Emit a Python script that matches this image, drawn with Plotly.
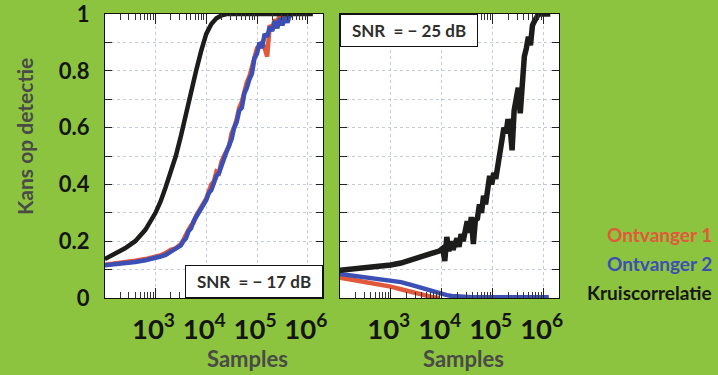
import plotly.graph_objects as go

# ---------------- data (x given as log10(samples)) ----------------
left_black_logx = [2.0, 2.2, 2.4, 2.6, 2.8, 3.0, 3.1, 3.2, 3.3, 3.4, 3.5, 3.6, 3.7, 3.8,
                   3.9, 4.0, 4.1, 4.2, 4.3, 4.4, 4.6, 5.0, 5.5, 6.1]
left_black_y = [0.137, 0.155, 0.175, 0.20, 0.24, 0.30, 0.34, 0.39, 0.44, 0.50, 0.57, 0.65,
                0.73, 0.80, 0.87, 0.93, 0.965, 0.985, 0.995, 1.0, 1.0, 1.0, 1.0, 1.0]

left_noisy_logx = [2.0, 2.2, 2.4, 2.6, 2.8, 3.0, 3.1, 3.2, 3.3, 3.4, 3.5, 3.55, 3.6, 3.65,
                   3.7, 3.75, 3.8, 3.85, 3.9, 3.95, 4.0, 4.05, 4.1, 4.15, 4.2, 4.25, 4.3,
                   4.35, 4.4, 4.45, 4.5, 4.55, 4.6, 4.65, 4.7, 4.75, 4.8, 4.85, 4.9, 4.95,
                   5.0, 5.05, 5.1, 5.15, 5.2, 5.25, 5.3, 5.35, 5.4, 5.45, 5.5, 5.55, 5.6,
                   5.65, 5.7]
left_blue_y = [0.115, 0.118, 0.122, 0.127, 0.133, 0.140, 0.146, 0.152, 0.163, 0.172, 0.185,
               0.20, 0.21, 0.235, 0.245, 0.27, 0.285, 0.30, 0.31, 0.33, 0.345, 0.37, 0.38,
               0.405, 0.43, 0.44, 0.47, 0.49, 0.515, 0.54, 0.56, 0.60, 0.62, 0.66, 0.67,
               0.72, 0.74, 0.77, 0.79, 0.845, 0.86, 0.90, 0.88, 0.93, 0.92, 0.955, 0.94,
               0.975, 0.95, 0.985, 0.96, 0.99, 0.97, 1.0, 0.99]
left_red_y = [0.117, 0.121, 0.126, 0.131, 0.137, 0.144, 0.15, 0.158, 0.17, 0.175, 0.19,
              0.205, 0.225, 0.24, 0.255, 0.265, 0.29, 0.305, 0.32, 0.335, 0.35, 0.375, 0.4,
              0.41, 0.445, 0.44, 0.48, 0.5, 0.52, 0.535, 0.58, 0.6, 0.63, 0.67, 0.69, 0.73,
              0.76, 0.78, 0.81, 0.84, 0.88, 0.89, 0.9, 0.88, 0.85, 0.96, 0.95, 0.98, 0.97,
              1.0, 0.98, 1.0, 0.99, 1.0, 1.0]

right_black_logx = [2.0, 2.3, 2.6, 3.0, 3.2, 3.4, 3.6, 3.8, 3.95, 4.02, 4.06, 4.1, 4.14,
                    4.18, 4.22, 4.26, 4.3, 4.34, 4.38, 4.42, 4.46, 4.5, 4.54, 4.58, 4.62,
                    4.66, 4.7, 4.74, 4.78, 4.82, 4.86, 4.9, 4.94, 4.98, 5.02, 5.06, 5.1,
                    5.14, 5.18, 5.22, 5.26, 5.3, 5.34, 5.38, 5.42, 5.46, 5.5, 5.54, 5.58,
                    5.62, 5.66, 5.7, 5.74, 5.78, 5.82, 5.86, 5.9, 5.95, 6.0, 6.13]
right_black_y = [0.098, 0.102, 0.106, 0.116, 0.123, 0.133, 0.142, 0.157, 0.165, 0.175, 0.13,
                 0.215, 0.165, 0.2, 0.17, 0.195, 0.21, 0.18, 0.225, 0.2, 0.24, 0.27, 0.23,
                 0.285, 0.19, 0.275, 0.28, 0.33, 0.30, 0.36, 0.33, 0.39, 0.43, 0.40, 0.44,
                 0.42, 0.47, 0.52, 0.55, 0.60, 0.58, 0.63, 0.60, 0.52, 0.66, 0.69, 0.74,
                 0.65, 0.80, 0.85, 0.88, 0.92, 0.89, 0.96, 0.975, 0.99, 1.0, 1.0, 1.0, 1.0]

right_blue_logx = [2.0, 2.3, 2.6, 3.0, 3.2, 3.4, 3.6, 3.8, 4.0, 4.1, 4.2, 4.4, 4.6, 5.0, 5.5, 6.1]
right_blue_y = [0.085, 0.078, 0.072, 0.063, 0.056, 0.046, 0.035, 0.024, 0.014, 0.01, 0.007,
                0.004, 0.003, 0.003, 0.003, 0.003]
right_red_logx = [2.0, 2.3, 2.6, 3.0, 3.2, 3.4, 3.6, 3.8, 3.95]
right_red_y = [0.072, 0.063, 0.053, 0.04, 0.031, 0.021, 0.012, 0.004, 0.0]

series_names = ["Ontvanger 1", "Ontvanger 2", "Kruiscorrelatie"]
snr_labels = ["SNR\u00a0\u00a0=\u00a0\u2212\u00a017\u00a0dB", "SNR\u00a0\u00a0=\u00a0\u2212\u00a025\u00a0dB"]

# ---------------- styles ----------------
RED = "#e2583a"
BLUE = "#3b4fb4"
BLACK = "#1c1c1a"
BG = "#8dc43f"
FONT = "Lato, Roboto, sans-serif"
GREY = "#4a4a48"


def tx(v):
    return [10 ** a for a in v]


fig = go.Figure()
LW = 4.5
fig.add_trace(go.Scatter(x=tx(left_noisy_logx), y=left_red_y, mode="lines",
                         line=dict(color=RED, width=LW), xaxis="x", yaxis="y", name=series_names[0]))
fig.add_trace(go.Scatter(x=tx(left_noisy_logx), y=left_blue_y, mode="lines",
                         line=dict(color=BLUE, width=LW), xaxis="x", yaxis="y", name=series_names[1]))
fig.add_trace(go.Scatter(x=tx(left_black_logx), y=left_black_y, mode="lines",
                         line=dict(color=BLACK, width=LW), xaxis="x", yaxis="y", name=series_names[2]))

fig.add_trace(go.Scatter(x=tx(right_red_logx), y=right_red_y, mode="lines",
                         line=dict(color=RED, width=LW), xaxis="x2", yaxis="y2", name=series_names[0]))
fig.add_trace(go.Scatter(x=tx(right_blue_logx), y=right_blue_y, mode="lines",
                         line=dict(color=BLUE, width=LW), xaxis="x2", yaxis="y2", name=series_names[1]))
fig.add_trace(go.Scatter(x=tx(right_black_logx), y=right_black_y, mode="lines",
                         line=dict(color=BLACK, width=5.5), xaxis="x2", yaxis="y2", name=series_names[2]))

W, H = 718, 375
ydom = [(H - 298) / H, (H - 14) / H]

xcommon = dict(type="log", range=[2.005, 6.3], dtick=1, tick0=0, exponentformat="power",
               showexponent="all", ticks="inside", ticklen=10, tickcolor="#222",
               showline=True, linecolor="#111", linewidth=1, mirror="allticks",
               showgrid=True, gridcolor="#c3cadc", griddash="dot", gridwidth=1,
               zeroline=False, ticklabelshift=-2, ticklabelstandoff=8, automargin=False,
               ticklabeloverflow="allow",
               tickfont=dict(family=FONT, size=22, color="#141410", weight="bold"),
               minor=dict(dtick="D1", ticks="inside", ticklen=6, tickcolor="#333", showgrid=False))
ycommon = dict(range=[0, 1], dtick=0.2, tick0=0, ticks="inside", ticklen=7, tickcolor="#222",
               showline=True, linecolor="#111", linewidth=1, mirror="allticks",
               showgrid=True, gridcolor="#c3cadc", griddash="dot", gridwidth=1, zeroline=False,
               tickfont=dict(family=FONT, size=22, color="#141410", weight="bold"),
               ticklabelstandoff=10, automargin=False, ticklabeloverflow="allow",
               minor=dict(dtick=0.1, ticks="inside", ticklen=7, tickcolor="#222",
                          showgrid=True, gridcolor="#c3cadc", griddash="dot"))

fig.update_layout(
    width=W, height=H, margin=dict(l=0, r=0, t=0, b=0, autoexpand=False),
    paper_bgcolor=BG, plot_bgcolor="white", showlegend=False,
    xaxis=dict(domain=[105 / W, 323 / W], anchor="y", **xcommon),
    xaxis2=dict(domain=[340 / W, 559 / W], anchor="y2", **xcommon),
    yaxis=dict(domain=ydom, anchor="x", **ycommon),
    yaxis2=dict(domain=ydom, anchor="x2", showticklabels=False, **ycommon),
)

ann = []
# SNR boxes
ann.append(dict(text=snr_labels[0], xref="x domain", yref="y domain", x=1, y=0,
                xanchor="right", yanchor="bottom", showarrow=False, width=134, height=29,
                bgcolor="white", bordercolor="#111", borderwidth=1, borderpad=1,
                font=dict(family=FONT, size=17, color="#2e2e2c", weight="bold")))
ann.append(dict(text=snr_labels[1], xref="x2 domain", yref="y2 domain", x=0, y=1,
                xanchor="left", yanchor="top", showarrow=False, width=134, height=29,
                bgcolor="white", bordercolor="#111", borderwidth=1, borderpad=1,
                font=dict(family=FONT, size=17, color="#2e2e2c", weight="bold")))
# axis titles
ann.append(dict(text="Kans op detectie", xref="paper", yref="paper", x=25 / W, y=1 - 137 / H,
                xanchor="center", yanchor="middle", textangle=-90, showarrow=False,
                font=dict(family=FONT, size=21, color=GREY, weight="bold")))
for cx in (247, 463):
    ann.append(dict(text="Samples", xref="paper", yref="paper", x=cx / W, y=1 - 358 / H,
                    xanchor="center", yanchor="middle", showarrow=False,
                    font=dict(family=FONT, size=22, color=GREY, weight="bold")))
# legend texts
for name, col, cy in zip(series_names, [RED, BLUE, "#161610"], [234, 263, 292]):
    ann.append(dict(text=name, xref="paper", yref="paper", x=714 / W, y=1 - cy / H,
                    xanchor="right", yanchor="middle", showarrow=False,
                    font=dict(family=FONT, size=19, color=col, weight="bold")))
fig.update_layout(annotations=ann)

fig.write_html("out.html", config={"displayModeBar": False, "responsive": False},
               post_script="document.body.style.margin='0';document.body.style.overflow='hidden';")
